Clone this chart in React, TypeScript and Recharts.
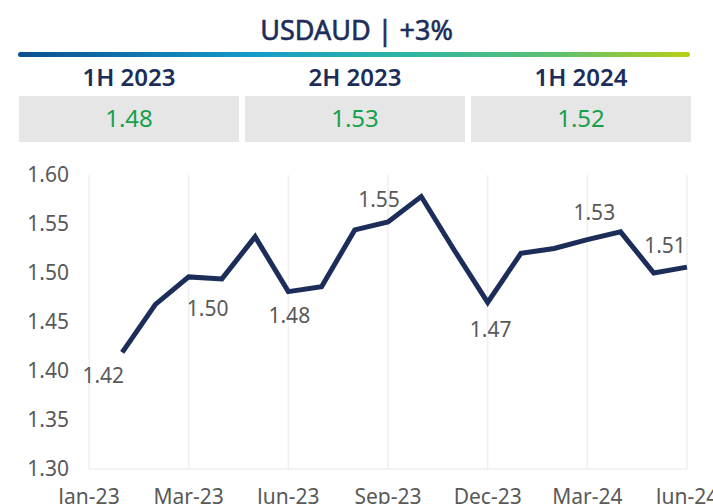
import { CartesianGrid, LabelList, Line, LineChart, XAxis, YAxis } from "recharts";

const months = [
  "Jan-23", "Feb-23", "Mar-23", "Apr-23", "May-23", "Jun-23",
  "Jul-23", "Aug-23", "Sep-23", "Oct-23", "Nov-23", "Dec-23",
  "Jan-24", "Feb-24", "Mar-24", "Apr-24", "May-24", "Jun-24",
];
const rates = [
  1.419, 1.468, 1.496, 1.494, 1.537, 1.481,
  1.486, 1.544, 1.552, 1.578, 1.523, 1.47,
  1.52, 1.525, 1.534, 1.542, 1.5, 1.506,
];
const labelled = [0, 2, 5, 8, 11, 14, 17];

const tickPositions = [-1, 2, 5, 8, 11, 14, 17];
const tickLabels = ["Jan-23", "Mar-23", "Jun-23", "Sep-23", "Dec-23", "Mar-24", "Jun-24"];
const yTicks = [1.3, 1.35, 1.4, 1.45, 1.5, 1.55, 1.6];

const halves = ["1H 2023", "2H 2023", "1H 2024"];
const halfAverages = ["1.48", "1.53", "1.52"];

// where each data label sits relative to its point
const labelOffset: Record<number, [number, number]> = {
  0: [-19, 23],
  2: [19, 31],
  5: [1, 23],
  8: [-9, -23],
  11: [3, 27],
  14: [7, -28],
  17: [-22, -22],
};

const NAVY = "#1c2d59";
const GREY = "#595959";
const FONT = "'Noto Sans', sans-serif";

const data = months.map((m, i) => ({ i, month: m, rate: rates[i] }));

function PointLabel(props: any) {
  const { x, y, index, value } = props;
  if (!labelled.includes(index)) return null;
  const [dx, dy] = labelOffset[index] ?? [0, -20];
  return (
    <text
      x={x + dx}
      y={y + dy}
      textAnchor="middle"
      dominantBaseline="central"
      fill={GREY}
      fontSize={21}
      fontFamily={FONT}
    >
      {Number(value).toFixed(2)}
    </text>
  );
}

export default function App() {
  return (
    <div
      style={{
        position: "absolute",
        left: 0,
        top: 0,
        width: 713,
        height: 504,
        overflow: "hidden",
        background: "#fff",
        fontFamily: FONT,
      }}
    >
      <div
        style={{
          position: "absolute",
          top: 10,
          left: 0,
          width: 713,
          height: 40,
          lineHeight: "40px",
          textAlign: "center",
          fontSize: 27,
          WebkitTextStroke: "0.6px " + NAVY,
          color: NAVY,
        }}
      >
        USDAUD | +3%
      </div>
      <div
        style={{
          position: "absolute",
          top: 52,
          left: 18,
          width: 672,
          height: 5,
          borderRadius: 3,
          background:
            "linear-gradient(to right, #0a4f8f 0%, #159cc8 35%, #2fb5a4 58%, #5cc070 80%, #b8cf12 100%)",
        }}
      />
      {halves.map((h, k) => (
        <div key={h}>
          <div
            style={{
              position: "absolute",
              top: 62,
              left: 19 + k * 226,
              width: 220,
              height: 30,
              lineHeight: "30px",
              textAlign: "center",
              fontSize: 24,
              fontWeight: 600,
              color: NAVY,
            }}
          >
            {h}
          </div>
          <div
            style={{
              position: "absolute",
              top: 96,
              left: 19 + k * 226,
              width: 220,
              height: 46,
              lineHeight: "43px",
              textAlign: "center",
              fontSize: 24,
              color: "#17a04a",
              background: "#e6e6e6",
            }}
          >
            {halfAverages[k]}
          </div>
        </div>
      ))}
      <div style={{ position: "absolute", top: 150, left: 0 }}>
        <LineChart
          width={713}
          height={354}
          data={data}
          margin={{ top: 25, right: 26, bottom: 5, left: 0 }}
        >
          <CartesianGrid horizontal={false} stroke="#efefef" strokeWidth={1.5} />
          <XAxis
            dataKey="i"
            type="number"
            domain={[-1, 17]}
            ticks={tickPositions}
            tickFormatter={(v: number) => tickLabels[tickPositions.indexOf(v)] ?? ""}
            interval={0}
            height={30}
            axisLine={{ stroke: "#efefef", strokeWidth: 1.5 }}
            tickLine={false}
            tickSize={0}
            tickMargin={20}
            tick={{ fill: GREY, fontSize: 21, fontFamily: FONT }}
          />
          <YAxis
            type="number"
            domain={[1.3, 1.6]}
            ticks={yTicks}
            tickFormatter={(v: number) => v.toFixed(2)}
            width={89}
            axisLine={false}
            tickLine={false}
            tickSize={0}
            tickMargin={20}
            tick={{ fill: GREY, fontSize: 21, fontFamily: FONT }}
          />
          <Line
            dataKey="rate"
            stroke={NAVY}
            strokeWidth={5}
            dot={false}
            activeDot={false}
            isAnimationActive={false}
          >
            <LabelList dataKey="rate" content={PointLabel} />
          </Line>
        </LineChart>
      </div>
    </div>
  );
}
